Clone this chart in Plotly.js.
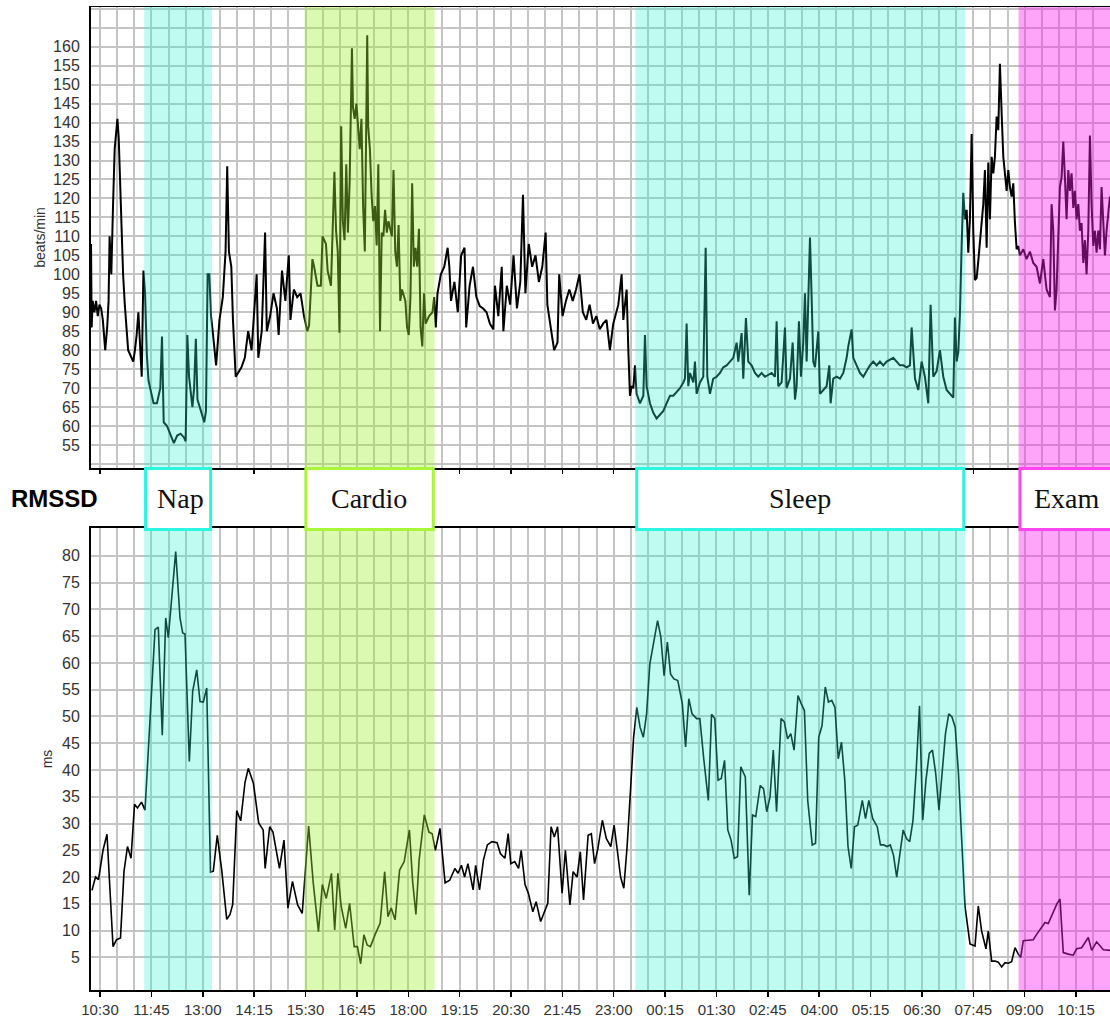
<!DOCTYPE html>
<html><head><meta charset="utf-8">
<script src="https://cdn.plot.ly/plotly-3.0.1.min.js"></script>
<style>html,body{margin:0;padding:0;background:#fff}#chart{width:1110px;height:1017px}</style>
</head><body><div id="chart"></div>
<script>
// minutes after 10:30 (day 1)
const hrMinutes = [-13.1,-12.2,-10.7,-8.2,-5.7,-3.3,-0.8,1.7,4.1,7.6,10.5,12.5,14,16.5,19,21.4,23.9,25.4,27.3,29.3,31.3,33.7,36.2,38.7,41.1,43.6,46.1,48.5,51,53.5,56,58.4,60.9,63.4,65.8,68.3,70.8,73.2,75.7,78.2,83.1,88,90.5,93,97.9,102.8,107.8,112.7,117.6,122.6,125,127.5,130,134.9,137.4,139.9,142.3,147.3,152.2,154.7,157.1,159.6,162.1,164.5,169.5,174.4,179.3,183.3,185.7,188.2,191.7,194.1,198.1,201.5,206.5,211.4,216.3,221.3,228.7,231.1,236.1,241,243.5,248.4,253.3,258.3,260.8,265.7,270.6,275.6,278,283,287.9,292.8,297.8,302.7,305.2,307.6,310.1,312.6,317.5,322.4,324.9,329.9,332.3,337.2,339.7,342.2,344.6,347.1,349.6,352.1,354.5,357,359.5,361.9,364.4,367.8,369.3,371.8,374.3,376.7,379.2,381.7,384.1,386.6,390.1,391.5,394,396.5,398.9,401.4,403.9,406.3,408.8,411.3,413.7,416.2,418.7,421.1,426.1,428.5,431,433.5,435.9,438.4,440.9,445.8,448.3,450.8,453.2,455.7,458.2,460.6,463.1,465.6,468,470.5,473,475.4,480.4,485.3,487.8,490.2,492.7,497.6,502.6,507.5,510,512.4,517.4,522.3,527.2,532.2,534.6,539.6,544.5,549.5,554.4,559.3,564.3,569.2,574.1,576.6,581.5,586.5,588.9,593.9,598.8,603.7,608.7,613.6,617.5,621,625.9,630.9,635.8,640.7,645.7,650.6,653.1,658,663,667.9,670.4,675.3,680.2,685.2,690.1,695,700,704.9,709.8,714.8,719.7,724.6,729.6,734.5,739.4,744.4,749.3,756.7,761.5,764,768.8,771.3,773.7,776.1,778.6,781,783.4,788.3,793.2,795.6,798,802.9,807.8,812.6,817.5,822.4,827.2,832.1,837,841.8,846.7,851.6,854,856.4,858.8,861.3,866.2,868.6,871,875.9,880.7,884.2,886.6,890.5,895.3,900.2,905.1,909.9,914.8,919.7,924.5,929.4,931.8,936.7,939.1,943,946.4,951.3,956.2,961,965.9,970.8,975.6,980.5,985.4,987.8,990.2,995.1,1000,1002.4,1007.3,1011.2,1014.6,1017,1020.4,1023.3,1026.7,1029.2,1031.6,1034,1036.5,1038.9,1041.3,1043.8,1048.6,1051.1,1055.9,1060.8,1064.7,1066.6,1070.5,1075.4,1080.3,1085.1,1090,1092.4,1097.3,1099.7,1104.6,1109.4,1114.3,1119.2,1124,1128.9,1133.8,1138.6,1143.5,1148.4,1153.2,1158.1,1163,1167.8,1172.7,1177.6,1182.4,1184.9,1189.8,1194.6,1199.5,1204.3,1209.2,1212.6,1216.5,1221.4,1226.2,1231.1,1236,1240.8,1245.7,1248.1,1250.6,1253,1255.4,1257.9,1260.3,1262.7,1265.2,1267.6,1270,1272.5,1274.9,1277.3,1279.8,1282.2,1284.6,1287.1,1289.5,1291.9,1294.4,1296.8,1299.2,1301.7,1304.1,1306.5,1309,1311.4,1313.8,1316.3,1318.7,1321.1,1323.6,1326,1328.4,1330.9,1333.3,1335.7,1338.2,1340.6,1343,1347.9,1352.7,1357.6,1362.5,1367.3,1372.2,1377.1,1381.9,1386.8,1389.2,1391.7,1394.1,1396.5,1399,1401.4,1403.8,1406.3,1408.7,1411.1,1413.6,1416,1418.4,1420.9,1423.3,1425.7,1428.2,1430.6,1433,1435.5,1437.9,1440.3,1442.8,1445.2,1447.6,1450.1,1452.5,1454.9,1457.4,1459.8,1462.2,1464.7,1467.1,1469.5,1474.4];
const hrValues = [108,86,93,90,93,89,92,91,88,80,86,93,110,100,118,133,138,141,136,125,108,100,92,85,80,79,78,77,80,84,90,82,73,101,95,79,72,70,68,66,66,70,83.6,61,60,57.6,55.5,57.5,58,57,56,84,73,65,70,83,67,64,61,64,100,100,89,85,76,88,94,106,128.5,106,102,88,73,74,75.5,78,85,80,100,78,85,111,85,89,95,91,84,101,93,105,88,96,94,95,89,85,86.5,95,104,102,97,97,110,108,101,97,114.5,127,111.5,106,84.6,139,114,109,129,111,124,159.6,144,141,145,139,133,141,118,106,163,139,133,121,114,118,107.6,129,85,111,110,117,111,114,110,127.5,106,102,113,93,96,93,86,84,94,124,102,107,102,112,86,81,95,87,89,90,94,86,95,100,102,107,102,93,98,90,105,107,86,97,102,94,91.6,91,90,87,85.5,97,89,102,85,97,92,105,91,98,121,95,108,102,105,98,102,111,92,86,80,82,100,89,93,96,93,96,100,90,88,92,87,89,85.5,87,88,80,87,92,100,88,96,80,68,70.5,70,76,68.5,66,68,84,70.5,66,63.5,62,63,64,66,68,68,69,70,71.5,72.5,87,70.5,74,71.5,77,68.5,71.5,73,107,73,68.5,72.5,73,74,75.5,76,77,78,82,77,84.5,72.5,88.5,77,76,74,73,74,73,73.5,74,73,87.6,70.5,71.5,86,70,72.5,82,67,70.5,87.6,73,82,95,77,94,109.7,94,77,75.5,85,68.5,69.5,70.5,76,66,72.5,73,72.5,74,78,81,85.5,78,76,74,73,74.5,76,77,76,77,76,77,77.5,78,77,76,76,75.5,76,86,72.5,69.5,77,73,66,92,73,74.5,80,73,69.5,68.5,67.5,88.6,77,79.5,89.5,107.5,121.5,114.5,117,105.7,114.5,137,111.5,98.5,99,103.5,108.5,111.5,118.5,127.5,107,129.5,114.5,131,126.6,131,141.6,138,155.5,142.5,131,126.6,122,127.5,123,120.5,124,113.6,106.6,107.5,105,106.6,104,106,103,102,97.6,104,96,94,118.5,111.5,90.5,96,111.5,123,125.5,135,125.5,114.5,127.5,122,126.6,117.5,122,114.5,118.5,111.5,113.5,103,109,100,111.5,136.6,118.5,107.5,111.5,105.7,111.5,106.6,123,111.5,105,111.5,120.5];

const rmssdMinutes = [-11.7,-6.6,-2.2,4.4,10.2,19,24.1,29.9,35,40.1,45.3,50.4,54.7,60.6,65.7,73,80.3,85.1,90.9,95.9,99.7,110.5,116.8,120.7,124.1,130.4,135.3,141.2,146,150.8,155.8,161.3,165.4,171.2,177.7,185,189.8,193.7,199.6,205.4,211.7,216.5,224,231.6,238.2,241.1,247.7,252.5,262,268.6,274.3,281,288.5,295.2,304.6,311.3,318.9,324.6,330.3,337.9,342.6,347.3,352.1,358.7,364.4,371.1,375.8,380.5,385.3,390,394.8,401.4,409,415.6,420.4,425.1,430.8,437.4,444.1,451.7,456.4,461.2,465.9,473.5,480.1,484.9,489.6,496.3,503.8,510.5,518.1,522.8,527.6,532.3,537.1,544.7,548.4,554.1,559.8,565.5,572.2,579.7,584.5,591.1,595.9,599.7,605.4,611.1,614.9,620.5,625.3,631.9,636.7,643.3,648.1,653.7,658.5,663.2,668,674.6,679.4,686,690.7,696.4,701.2,705.9,712.6,717.3,722,726.8,733.4,739.1,745.7,750.5,755.2,760,764.7,769.5,774.2,779,783.7,788.4,793.2,797.9,802.7,808.3,814,818.8,823.5,828.3,833,837.8,843.5,850.1,854.9,859.6,864.3,871,875.7,881.4,888.1,892.8,897.5,902.3,907,911.8,916.5,921.3,926,930.7,935.5,942.1,947.8,952.6,957.3,963.9,968.7,973.4,978.2,982.9,987.7,994.3,999,1003.8,1008.5,1013.3,1019,1023.7,1028.4,1033.2,1039.8,1044.6,1049.3,1054.1,1058.8,1063.5,1068.3,1073,1077.8,1082.5,1087.3,1092,1096.7,1101.5,1106.2,1112.9,1117.6,1122.4,1128.1,1134.7,1139.4,1144.2,1148.9,1153.7,1158.4,1163.1,1167.9,1172.6,1177.4,1182.1,1186.9,1191.6,1196.4,1201.1,1205.8,1210.6,1215.3,1220.1,1224.8,1229.6,1234.3,1239.1,1243.8,1248.5,1253.3,1258,1262.8,1270.1,1277.4,1282.2,1287.1,1293.4,1296.8,1301.7,1306.6,1311.4,1316.3,1321.2,1326,1330.9,1335.8,1340.6,1344.1,1347.9,1352.8,1362.5,1367.4,1374.7,1379.6,1384.4,1389.3,1396.6,1401.5,1406.3,1413.6,1420.9,1425.8,1433.1,1442.8,1447.7,1455,1464.7,1474.5];
const rmssdValues = [17.5,20,19.5,25,28,7,8.3,8.6,21,25.7,23.5,33.6,32.9,34,32.5,49.6,66.2,66.7,46.5,68.4,64.7,80.8,68.4,65.6,65.4,41.6,54.7,58.7,52.8,52.7,55.3,20.9,21.1,27.8,21.3,12.1,13,14.9,32.4,30.5,37.7,40.3,37.5,30.1,28.8,21.6,29.4,28.4,21.6,26.9,14.2,19.2,14.8,13.2,29.5,18.9,9.8,18.6,16,20.7,10.1,20.7,14.5,10.4,15.1,7,7,3.8,9.2,7.3,7,9.2,11.4,21,12.6,14.2,12,21.3,22.9,28.8,19.2,13,23.2,31.6,28.4,28.1,25,29.1,18.9,19.4,21.6,20.7,22.2,20,22.5,17.6,22.2,17.6,23.2,26,26.6,26.4,24.4,23.5,28.1,22.5,22.9,21.6,25,18.6,17,13.5,15.4,11.7,13.2,15.1,29.4,27.5,29.4,17,25,14.8,21,20,24.7,15.7,27.8,28.1,22.5,25.3,30.6,27.2,25.7,29.7,25,20,17.9,25.7,35.6,46.1,51.7,48,46.1,50.4,59.8,64.2,67.9,64.8,57.6,63.9,57.9,57,56.7,52.4,44.3,53.3,50.5,49.6,49.6,42.1,34.3,50.4,49.6,38.1,38.4,41.8,28.8,26.9,23.5,23.8,40.6,38.7,16.6,31.6,31.3,37.1,36.5,32.2,35,43.7,32.2,49.6,49,45.8,46.8,43.7,53.9,52.4,51.1,34.3,26,26.3,46.1,48.3,55.5,52.7,53,51.7,42.1,45.2,38.1,25.7,21.6,29.4,29.7,34.3,30.9,34.3,30.9,29.4,26,26,25.7,26,24.1,20,24.7,28.8,27.2,26.6,30.6,40,52,30.6,38.1,43.1,43.7,39.3,32.5,39.3,46.8,50.5,49.9,48,39.3,26.9,14.5,7.5,7.1,14.6,9.9,6.6,9.9,4.3,4.3,4.1,3.2,4,3.9,4.2,6.8,5.6,5,8.1,8.2,8.3,9.3,10.6,11.5,11.3,12.7,14.9,15.9,5.9,5.6,5.4,6.6,6.8,8.7,6.3,7.9,6.4,6.3];

const regionNames = ['Nap', 'Cardio', 'Sleep', 'Exam'];
const regionStart = [64.5, 298.5, 781.5, 1341];
const regionEnd = [163.5, 488.5, 1263, 1490];
const labelMinutes = [118, 393, 1022, 1412];

const hrTickVals = [55,60,65,70,75,80,85,90,95,100,105,110,115,120,125,130,135,140,145,150,155,160];
const rmssdTickVals = [5,10,15,20,25,30,35,40,45,50,55,60,65,70,75,80];

// styles
const shadeColors = ['rgba(48,242,210,0.31)', 'rgba(160,240,50,0.38)', 'rgba(48,242,210,0.31)', 'rgba(255,30,240,0.40)'];
const boxColors = ['#2ef5e0', '#a8f53a', '#2ef5e0', '#ff44f0'];

const BASE = Date.UTC(2021, 0, 1, 10, 30, 0);
function toDate(m) {
  const d = new Date(BASE + Math.round(m * 60000));
  return d.toISOString().replace('T', ' ').slice(0, 19);
}

const gridColor = '#c4c4c4';
const tickFontX = {family: 'Liberation Sans, Arial, sans-serif', size: 15, color: '#333'};
const tickFontY = {family: 'Liberation Sans, Arial, sans-serif', size: 16, color: '#333'};

const traces = [
  {x: hrMinutes.map(toDate), y: hrValues, xaxis: 'x2', yaxis: 'y2', type: 'scatter', mode: 'lines',
   line: {color: '#000', width: 2}, hoverinfo: 'skip'},
  {x: rmssdMinutes.map(toDate), y: rmssdValues, xaxis: 'x', yaxis: 'y', type: 'scatter', mode: 'lines',
   line: {color: '#000', width: 1.6}, hoverinfo: 'skip'}
];

const xCommon = {
  type: 'date', range: [toDate(-13.14), toDate(1474.5)],
  tick0: '2021-01-01 10:30', dtick: 75 * 60000, tickformat: '%H:%M',
  ticks: 'outside', ticklen: 5, tickwidth: 1.5, tickcolor: '#000',
  showline: true, linecolor: '#000', linewidth: 1.5, mirror: true,
  showgrid: true, gridcolor: gridColor, gridwidth: 2, zeroline: false,
  minor: {tick0: '2021-01-01 10:30', dtick: 25 * 60000, showgrid: true, gridcolor: gridColor, gridwidth: 2, ticks: ''},
  tickfont: tickFontX
};

const shapes = [];
for (let i = 0; i < regionNames.length; i++) {
  ['y domain', 'y2 domain'].forEach((yr, k) => {
    shapes.push({type: 'rect', xref: k === 0 ? 'x' : 'x2', yref: yr,
      x0: toDate(regionStart[i]), x1: toDate(regionEnd[i]), y0: 0, y1: 1,
      fillcolor: shadeColors[i], line: {width: 0}, layer: 'above'});
  });
}
for (let i = 0; i < regionNames.length; i++) {
  shapes.push({type: 'rect', xref: 'x', yref: 'paper',
    x0: toDate(regionStart[i] + 2), x1: toDate(regionEnd[i] - 2), y0: 0.4685, y1: 0.5305,
    fillcolor: '#fff', line: {color: boxColors[i], width: 3}, layer: 'above'});
}

const annotations = regionNames.map((n, i) => ({
  text: n, xref: 'x', yref: 'paper', x: toDate(labelMinutes[i]), y: 0.4995,
  xanchor: 'center', yanchor: 'middle', showarrow: false,
  font: {family: 'Liberation Serif, Times New Roman, serif', size: 28, color: '#111'}
}));
annotations.push({text: '<b>RMSSD</b>', xref: 'paper', yref: 'paper', x: -0.0805, y: 0.4995,
  xanchor: 'left', yanchor: 'middle', showarrow: false,
  font: {family: 'Liberation Sans, Arial, sans-serif', size: 24, color: '#000'}});

const layout = {
  width: 1110, height: 1017,
  margin: {l: 91, r: 0, t: 7, b: 27},
  paper_bgcolor: '#fff', plot_bgcolor: '#fff',
  showlegend: false,
  xaxis: Object.assign({}, xCommon, {anchor: 'y', domain: [0, 1]}),
  xaxis2: Object.assign({}, xCommon, {anchor: 'y2', domain: [0, 1], matches: 'x', showticklabels: false, ticklen: 4}),
  yaxis: {domain: [0, 0.47], range: [-1.1, 85.2], tickmode: 'array', tickvals: rmssdTickVals,
    ticks: '', ticklabelstandoff: 6, showline: true, linecolor: '#000', linewidth: 2,
    showgrid: true, gridcolor: gridColor, gridwidth: 2, zeroline: false, tickfont: tickFontY,
    title: {text: 'ms', font: {family: 'Liberation Sans, Arial, sans-serif', size: 14, color: '#333'}, standoff: 6}},
  yaxis2: {domain: [0.531, 1], range: [48.94, 170.47], tickmode: 'array', tickvals: hrTickVals,
    ticks: '', ticklabelstandoff: 6, showline: true, linecolor: '#000', linewidth: 2,
    showgrid: true, gridcolor: gridColor, gridwidth: 2, zeroline: false, tickfont: tickFontY,
    minor: {tick0: 50, dtick: 5, showgrid: true, gridcolor: gridColor, gridwidth: 2, ticks: ''},
    title: {text: 'beats/min', font: {family: 'Liberation Sans, Arial, sans-serif', size: 14, color: '#333'}, standoff: 4}},
  shapes: shapes,
  annotations: annotations
};

Plotly.newPlot('chart', traces, layout, {staticPlot: true, displayModeBar: false});
</script>
</body></html>
